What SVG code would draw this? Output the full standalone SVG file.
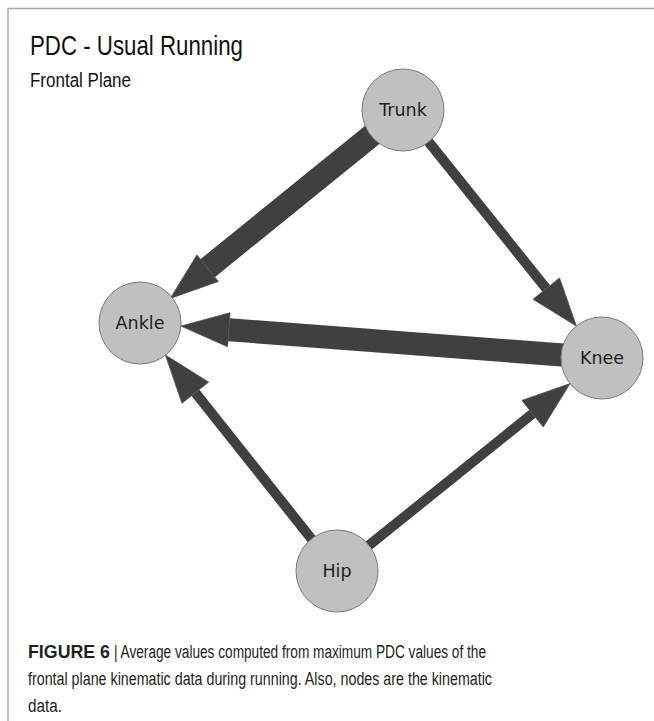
<svg xmlns="http://www.w3.org/2000/svg" width="654" height="721" viewBox="0 0 654 721">
<style>
.frame{fill:none;stroke:#a6a6a6;stroke-width:1.5}
.title{font-family:"Liberation Sans",Arial,sans-serif;fill:#111}
.node circle{fill:#c0c0c0;stroke:#7a7a7a;stroke-width:1}
.node text{font-family:"DejaVu Sans",Verdana,sans-serif;font-size:17.5px;fill:#1e1e1e;text-anchor:middle}
.edge{stroke:#404040;fill:none;marker-end:url(#head)}
.cap{font-family:"Liberation Sans",Arial,sans-serif;font-size:18px;fill:#231f20}
</style>
<defs>
<marker id="head" markerUnits="userSpaceOnUse" markerWidth="48" markerHeight="34" refX="0" refY="17" orient="auto" overflow="visible">
<path d="M0,0 L48,17 L0,34 Z" fill="#404040" stroke="#505050" stroke-width="0.8"/>
</marker>
</defs>
<rect width="654" height="721" fill="#fff"/>
<path class="frame" d="M8,721 V8.5 H654"/>
<text class="title" x="30" y="55" font-size="28" textLength="213" lengthAdjust="spacingAndGlyphs">PDC - Usual Running</text>
<text class="title" x="30" y="87" font-size="20" textLength="101" lengthAdjust="spacingAndGlyphs">Frontal Plane</text>
<g id="connectors">
<line class="edge" x1="403" y1="110" x2="207.6" y2="268.2" stroke-width="23"/>
<line class="edge" x1="602" y1="358" x2="228.8" y2="329.7" stroke-width="23"/>
<line class="edge" x1="403" y1="110" x2="546.3" y2="288.6" stroke-width="10"/>
<line class="edge" x1="337" y1="571" x2="195.3" y2="392.7" stroke-width="10"/>
<line class="edge" x1="337" y1="571" x2="532.6" y2="413.7" stroke-width="10"/>
</g>
<g id="trunk" class="node"><circle cx="403" cy="110" r="41"/><text x="403" y="116">Trunk</text></g>
<g id="ankle" class="node"><circle cx="140" cy="323" r="41"/><text x="140" y="329">Ankle</text></g>
<g id="knee" class="node"><circle cx="602" cy="358" r="41"/><text x="602" y="364">Knee</text></g>
<g id="hip" class="node"><circle cx="337" cy="571" r="41"/><text x="337" y="577">Hip</text></g>
<g id="caption">
<text class="cap" x="28" y="658" font-weight="bold" textLength="82" lengthAdjust="spacingAndGlyphs">FIGURE 6</text>
<text class="cap" x="114" y="658" textLength="372" lengthAdjust="spacingAndGlyphs">| Average values computed from maximum PDC values of the</text>
<text class="cap" x="28" y="685" textLength="464" lengthAdjust="spacingAndGlyphs">frontal plane kinematic data during running. Also, nodes are the kinematic</text>
<text class="cap" x="28" y="712" textLength="34" lengthAdjust="spacingAndGlyphs">data.</text>
</g>
</svg>
